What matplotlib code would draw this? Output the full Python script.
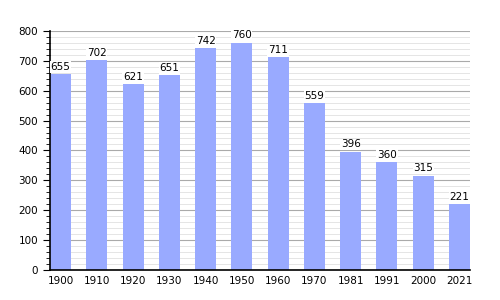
import matplotlib
matplotlib.use('Agg')
import matplotlib.pyplot as plt
from matplotlib.ticker import MultipleLocator

# Population by census year
years = ['1900', '1910', '1920', '1930', '1940', '1950', '1960', '1970', '1981', '1991', '2000', '2021']
population = [655, 702, 621, 651, 742, 760, 711, 559, 396, 360, 315, 221]

fig = plt.figure(figsize=(5, 3), dpi=100)
ax = fig.add_axes([0.1, 0.1, 0.84, 0.797])

x = range(len(years))
bar_w = 0.58
ax.bar(x, population, width=bar_w, color='#99aaff', zorder=2)

for i, v in zip(x, population):
    ax.text(i, v + 8, str(v), ha='center', va='bottom', fontsize=7.5,
            bbox=dict(facecolor='white', edgecolor='none', pad=0.5), zorder=3)

ax.set_xlim(-bar_w / 2, len(years) - 1 + bar_w / 2)
ax.set_ylim(0, 800)
ax.set_xticks(list(x))
ax.set_xticklabels(years)
ax.yaxis.set_major_locator(MultipleLocator(100))
ax.yaxis.set_minor_locator(MultipleLocator(20))
ax.grid(True, axis='y', which='major', color='#aaaaaa', linewidth=0.8, zorder=0)
ax.grid(True, axis='y', which='minor', color='#e0e0e0', linewidth=0.6, zorder=0)
ax.set_axisbelow(True)

for side in ['top', 'right']:
    ax.spines[side].set_visible(False)
ax.spines['left'].set_linewidth(1.2)
ax.spines['bottom'].set_linewidth(1.2)
ax.tick_params(axis='x', length=0, labelsize=7.5, pad=4)
ax.tick_params(axis='y', which='major', length=5, labelsize=7.5)
ax.tick_params(axis='y', which='minor', length=3)

plt.savefig('out.png')
